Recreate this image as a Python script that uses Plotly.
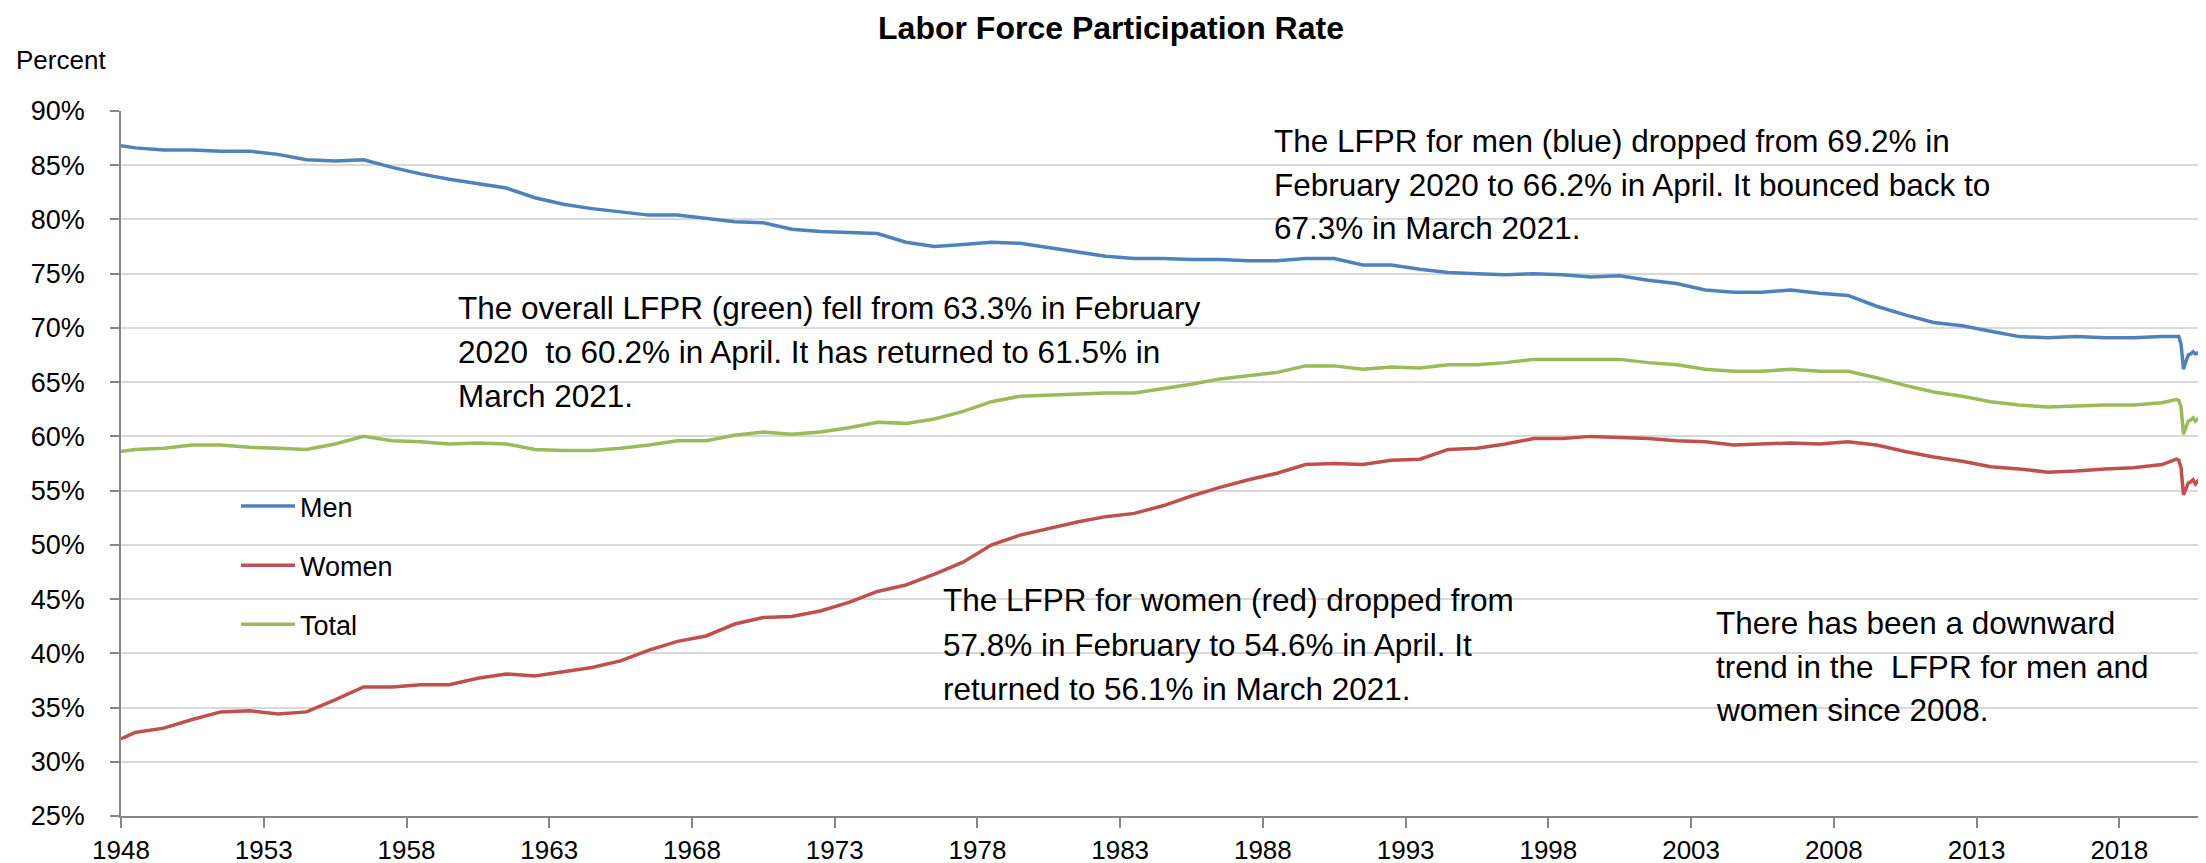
import plotly.graph_objects as go

# ---------------- data (percent) ----------------
# first observation, January 1948
start_date = "1948-01-01"
men_start = 86.8
women_start = 32.1
total_start = 58.6

# annual averages 1948-2019 (plotted mid-year)
years = list(range(1948, 2020))
men_annual = [86.6, 86.4, 86.4, 86.3, 86.3, 86.0, 85.5, 85.4, 85.5, 84.8,
              84.2, 83.7, 83.3, 82.9, 82.0, 81.4, 81.0, 80.7, 80.4, 80.4,
              80.1, 79.8, 79.7, 79.1, 78.9, 78.8, 78.7, 77.9, 77.5, 77.7,
              77.9, 77.8, 77.4, 77.0, 76.6, 76.4, 76.4, 76.3, 76.3, 76.2,
              76.2, 76.4, 76.4, 75.8, 75.8, 75.4, 75.1, 75.0, 74.9, 75.0,
              74.9, 74.7, 74.8, 74.4, 74.1, 73.5, 73.3, 73.3, 73.5, 73.2,
              73.0, 72.0, 71.2, 70.5, 70.2, 69.7, 69.2, 69.1, 69.2, 69.1,
              69.1, 69.2]
women_annual = [32.7, 33.1, 33.9, 34.6, 34.7, 34.4, 34.6, 35.7, 36.9, 36.9,
                37.1, 37.1, 37.7, 38.1, 37.9, 38.3, 38.7, 39.3, 40.3, 41.1,
                41.6, 42.7, 43.3, 43.4, 43.9, 44.7, 45.7, 46.3, 47.3, 48.4,
                50.0, 50.9, 51.5, 52.1, 52.6, 52.9, 53.6, 54.5, 55.3, 56.0,
                56.6, 57.4, 57.5, 57.4, 57.8, 57.9, 58.8, 58.9, 59.3, 59.8,
                59.8, 60.0, 59.9, 59.8, 59.6, 59.5, 59.2, 59.3, 59.4, 59.3,
                59.5, 59.2, 58.6, 58.1, 57.7, 57.2, 57.0, 56.7, 56.8, 57.0,
                57.1, 57.4]
total_annual = [58.8, 58.9, 59.2, 59.2, 59.0, 58.9, 58.8, 59.3, 60.0, 59.6,
                59.5, 59.3, 59.4, 59.3, 58.8, 58.7, 58.7, 58.9, 59.2, 59.6,
                59.6, 60.1, 60.4, 60.2, 60.4, 60.8, 61.3, 61.2, 61.6, 62.3,
                63.2, 63.7, 63.8, 63.9, 64.0, 64.0, 64.4, 64.8, 65.3, 65.6,
                65.9, 66.5, 66.5, 66.2, 66.4, 66.3, 66.6, 66.6, 66.8, 67.1,
                67.1, 67.1, 67.1, 66.8, 66.6, 66.2, 66.0, 66.0, 66.2, 66.0,
                66.0, 65.4, 64.7, 64.1, 63.7, 63.2, 62.9, 62.7, 62.8, 62.9,
                62.9, 63.1]

# monthly values, January 2020 - March 2021
months = ["2020-01", "2020-02", "2020-03", "2020-04", "2020-05", "2020-06",
          "2020-07", "2020-08", "2020-09", "2020-10", "2020-11", "2020-12",
          "2021-01", "2021-02", "2021-03"]
men_monthly = [69.2, 69.2, 68.5, 66.2, 66.9, 67.5, 67.6, 67.8, 67.6, 67.7,
               67.6, 67.6, 67.4, 67.4, 67.3]
women_monthly = [57.9, 57.8, 57.1, 54.6, 55.1, 55.7, 55.8, 56.0, 55.6, 55.9,
                 55.8, 55.8, 55.8, 55.8, 56.1]
total_monthly = [63.4, 63.3, 62.7, 60.2, 60.8, 61.4, 61.5, 61.7, 61.4, 61.6,
                 61.5, 61.5, 61.4, 61.4, 61.5]

series_names = ["Men", "Women", "Total"]
series_colors = ["#4F81BD", "#C0504D", "#9BBB59"]

note_men = ["The LFPR for men (blue) dropped from 69.2% in",
            "February 2020 to 66.2% in April. It bounced back to",
            "67.3% in March 2021."]
note_total = ["The overall LFPR (green) fell from 63.3% in February",
              "2020  to 60.2% in April. It has returned to 61.5% in",
              "March 2021."]
note_women = ["The LFPR for women (red) dropped from",
              "57.8% in February to 54.6% in April. It",
              "returned to 56.1% in March 2021."]
note_trend = ["There has been a downward",
              "trend in the  LFPR for men and",
              "women since 2008."]

# ---------------- figure ----------------
FONT = "Liberation Sans, Arial, sans-serif"
W, H = 2206, 863
L, R, T, B = 113, 2, 103, 55
PW, PH = W - L - R, H - T - B

dates = [start_date] + [f"{y}-07-01" for y in years] + [m + "-01" for m in months]
values = {
    "Men": [men_start] + men_annual + men_monthly,
    "Women": [women_start] + women_annual + women_monthly,
    "Total": [total_start] + total_annual + total_monthly,
}

fig = go.Figure()
for name, color in zip(series_names, series_colors):
    fig.add_trace(go.Scatter(
        x=dates, y=values[name], mode="lines", name=name,
        line=dict(color=color, width=3.5), legendgroup=name,
    ))


def px_x(px):
    return (px - L) / PW


def px_y(py):
    return (H - B - py) / PH


annos = []
def add_note(lines, left, mids):
    for line, mid in zip(lines, mids):
        annos.append(dict(
            text=line, xref="paper", yref="paper", x=px_x(left), y=px_y(mid),
            xanchor="left", yanchor="middle", showarrow=False,
            font=dict(family=FONT, size=31.5, color="black"),
        ))

add_note(note_men, 1264, [133, 176.5, 220])
add_note(note_total, 448, [300, 344, 388])
add_note(note_women, 933, [592, 636.5, 681])
add_note(note_trend, 1706, [615, 658.5, 702])

annos.append(dict(
    text="Percent", xref="paper", yref="paper", x=px_x(6), y=px_y(52),
    xanchor="left", yanchor="middle", showarrow=False,
    font=dict(family=FONT, size=26, color="black"),
))

fig.update_layout(
    width=W, height=H,
    margin=dict(l=L, r=R, t=T, b=B),
    paper_bgcolor="white", plot_bgcolor="white",
    title=dict(text="<b>Labor Force Participation Rate</b>", x=0.5, xref="container",
               y=1 - 20 / H, yref="container", yanchor="middle", xanchor="center",
               font=dict(family=FONT, size=32, color="black")),
    showlegend=True,
    legend=dict(x=px_x(228), y=px_y(474), xanchor="left", yanchor="top",
                bgcolor="rgba(0,0,0,0)", borderwidth=0,
                font=dict(family=FONT, size=27, color="black"),
                tracegroupgap=21, itemwidth=54, traceorder="grouped"),
    annotations=annos,
    xaxis=dict(type="date", range=["1948-01-01", "2021-04-01"],
               tick0="1948-01-01", dtick="M60", tickformat="%Y",
               showgrid=False, zeroline=False,
               showline=True, linecolor="#868686", linewidth=1.5,
               ticks="outside", ticklen=10, tickcolor="#868686", tickwidth=1.5,
               ticklabelstandoff=0,
               tickfont=dict(family=FONT, size=26, color="black")),
    yaxis=dict(range=[25, 90], dtick=5, ticksuffix="%",
               showgrid=True, gridcolor="#D9D9D9", gridwidth=2, zeroline=False,
               showline=True, linecolor="#868686", linewidth=1.5,
               ticks="outside", ticklen=9, tickcolor="#868686", tickwidth=1.5,
               ticklabelstandoff=20,
               tickfont=dict(family=FONT, size=27, color="black")),
)

fig.write_html("out.html")
